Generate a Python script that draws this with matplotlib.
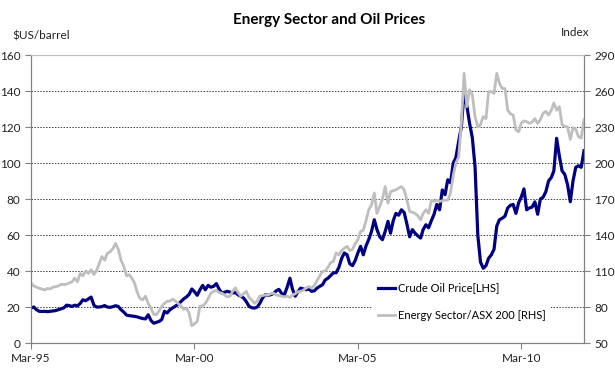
import numpy as np
import pandas as pd
import matplotlib
matplotlib.use("Agg")
import matplotlib.pyplot as plt
import matplotlib.dates as mdates

# --- DATA (monthly, Mar-95 .. Feb-12) ---

crude_oil = [
    19.4, 20.0, 18.5, 17.6, 17.5, 17.6, 17.4, 17.6, 17.8, 18.0, 18.5, 19.0,
    19.5, 21.0, 20.8, 20.3, 21.0, 20.6, 22.0, 24.0, 23.5, 24.5, 25.5, 21.0,
    20.0, 20.0, 20.2, 20.8, 20.0, 19.8, 20.2, 20.7, 20.3, 18.5, 17.2, 15.5,
    15.2, 15.0, 14.8, 14.5, 14.0, 13.6, 13.4, 15.7, 12.5, 11.0, 11.5, 12.0,
    13.0, 17.6, 16.7, 18.5, 19.5, 20.5, 21.5, 23.0, 24.5, 25.5, 27.0, 30.0,
    28.5, 26.5, 29.5, 32.0, 29.6, 32.0, 31.0, 31.5, 33.0, 30.0, 27.8, 28.2,
    28.7, 28.3, 27.8, 28.0, 26.8, 26.0, 25.0, 23.0, 20.4, 19.6, 19.4, 20.0,
    22.0, 25.0, 26.8, 26.5, 26.8, 27.5, 29.0, 29.8, 27.5, 26.8, 31.0, 36.0,
    30.0, 26.0, 28.5, 30.5, 30.0, 29.6, 30.0, 28.7, 29.0, 30.5, 31.5, 32.4,
    35.0, 36.0, 37.5, 39.0, 39.0, 42.0, 47.0, 50.0, 49.0, 44.0, 43.0, 46.0,
    50.0, 53.7, 49.0, 54.0, 57.5, 62.0, 68.5, 63.0, 59.0, 57.4, 62.0, 67.6,
    61.0, 68.0, 72.0, 71.0, 74.0, 72.5, 66.0, 59.0, 63.0, 61.0, 59.5, 58.3,
    63.0, 65.7, 64.0, 68.0, 71.5, 77.0, 74.0, 85.0, 82.4, 90.7, 89.0, 100.0,
    103.0, 112.0, 120.0, 139.8, 132.0, 122.0, 114.0, 98.0, 60.0, 45.0, 41.5, 43.0,
    47.0, 49.0, 52.0, 65.0, 68.5, 69.3, 70.5, 75.0, 76.5, 77.0, 72.0, 78.0,
    81.0, 85.6, 74.0, 75.0, 75.5, 78.4, 71.5, 80.0, 81.0, 84.0, 90.0, 92.0,
    95.6, 113.7, 104.0, 95.6, 93.7, 88.0, 78.5, 90.0, 97.6, 98.5, 97.6, 106.8,
]

energy_index = [
    100.0, 97.5, 96.5, 95.5, 95.0, 94.2, 95.5, 95.0, 96.5, 97.0, 97.5, 99.0,
    98.6, 99.0, 100.0, 101.0, 104.0, 101.0, 108.0, 106.0, 110.0, 108.0, 111.0, 107.0,
    110.0, 116.0, 122.0, 119.0, 124.7, 126.0, 128.6, 133.0, 128.0, 119.0, 114.0, 106.0,
    107.0, 104.0, 100.0, 92.0, 87.0, 86.0, 89.0, 83.0, 79.0, 74.0, 73.6, 77.0,
    80.6, 83.0, 84.7, 85.0, 86.5, 85.0, 83.0, 81.0, 78.0, 79.0, 75.0, 64.4,
    66.0, 68.0, 80.5, 81.0, 83.0, 87.0, 91.6, 93.0, 94.0, 92.0, 91.6, 90.0,
    88.5, 89.0, 93.0, 96.0, 92.0, 89.0, 91.0, 93.0, 88.0, 86.0, 83.0, 85.0,
    89.0, 89.5, 90.0, 90.0, 91.0, 91.6, 90.0, 89.5, 89.0, 88.5, 89.0, 88.0,
    90.0, 91.0, 92.8, 93.0, 94.0, 95.8, 97.0, 95.8, 98.0, 102.0, 106.0, 109.7,
    110.0, 113.0, 117.0, 118.0, 125.0, 123.5, 127.0, 129.0, 130.5, 127.0, 128.0, 133.0,
    136.0, 143.0, 144.0, 152.0, 161.0, 165.0, 175.0, 158.0, 163.8, 170.0, 180.4, 166.5,
    176.0, 177.0, 177.6, 179.0, 180.4, 177.6, 169.0, 159.6, 159.0, 158.0, 156.0, 152.6,
    158.0, 161.0, 158.0, 169.0, 168.0, 169.0, 168.0, 168.5, 169.0, 169.0, 175.0, 190.0,
    200.0, 205.0, 233.0, 274.7, 247.0, 261.0, 256.7, 238.7, 230.0, 232.0, 238.7, 237.0,
    259.5, 259.5, 258.0, 274.7, 266.4, 262.0, 262.0, 244.0, 241.0, 240.0, 227.5, 226.0,
    233.0, 235.0, 234.5, 233.0, 234.0, 237.0, 233.0, 236.0, 241.5, 243.0, 240.0, 244.0,
    250.0, 244.0, 247.0, 232.0, 230.5, 230.0, 219.7, 229.4, 228.0, 222.0, 220.7, 236.0,
]

dates = pd.date_range("1995-03-01", periods=len(crude_oil), freq="MS")
tick_dates = pd.to_datetime(["1995-03-01", "2000-03-01", "2005-03-01", "2010-03-01"])
left_ticks = np.arange(0, 161, 20)
right_ticks = np.arange(50, 291, 30)

plt.rcParams["font.family"] = ["Lato", "DejaVu Sans"]

fig = plt.figure(figsize=(6.15, 3.76), dpi=100)
ax = fig.add_axes([31 / 615, 1 - 343 / 376, (584 - 31) / 615, (343 - 55) / 376])
ax2 = ax.twinx()

line1, = ax.plot(dates, crude_oil, color="#000080", lw=2.3, label="Crude Oil Price[LHS]")
line2, = ax2.plot(dates, energy_index, color="#BEBEBE", lw=2.0,
                  label="Energy Sector/ASX 200 [RHS]")

ax.set_xlim(dates[0], dates[-1])
ax.set_ylim(0, 160)
ax2.set_ylim(50, 290)
ax.set_yticks(left_ticks)
ax2.set_yticks(right_ticks)
ax.set_xticks(tick_dates)
ax.xaxis.set_major_formatter(mdates.DateFormatter("%b-%y"))

# dotted gridlines
for v in left_ticks[1:-1]:
    ax.axhline(v, color="#404040", lw=0.7, ls=(0, (1.5, 1.5)), zorder=0)

for a in (ax, ax2):
    for s in a.spines.values():
        s.set_color("#808080")
    a.spines["top"].set_color("#BFBFBF")
    a.tick_params(colors="#808080", labelcolor="#222222", labelsize=8.5, length=4, width=0.8)

fig.text(329 / 615, 1 - 20 / 376, "Energy Sector and Oil Prices", ha="center", va="center",
         fontsize=11, fontweight="bold")
fig.text(12 / 615, 1 - 36 / 376, "$US/barrel", ha="left", va="center", fontsize=8.5, color="#222222")
fig.text(590 / 615, 1 - 33 / 376, "Index", ha="right", va="center", fontsize=8.5, color="#222222")

leg = ax2.legend(handles=[line1, line2], loc="upper left",
                 bbox_to_anchor=(372 / 615, 1 - 277 / 376), bbox_transform=fig.transFigure,
                 frameon=True, fontsize=8, handlelength=1.6, handletextpad=0.2,
                 labelspacing=1.5, borderpad=0.5, borderaxespad=0, fancybox=False)
leg.get_frame().set_facecolor("white")
leg.get_frame().set_edgecolor("none")
leg.get_frame().set_alpha(1)

fig.savefig("out.png", dpi=100)
plt.close(fig)
